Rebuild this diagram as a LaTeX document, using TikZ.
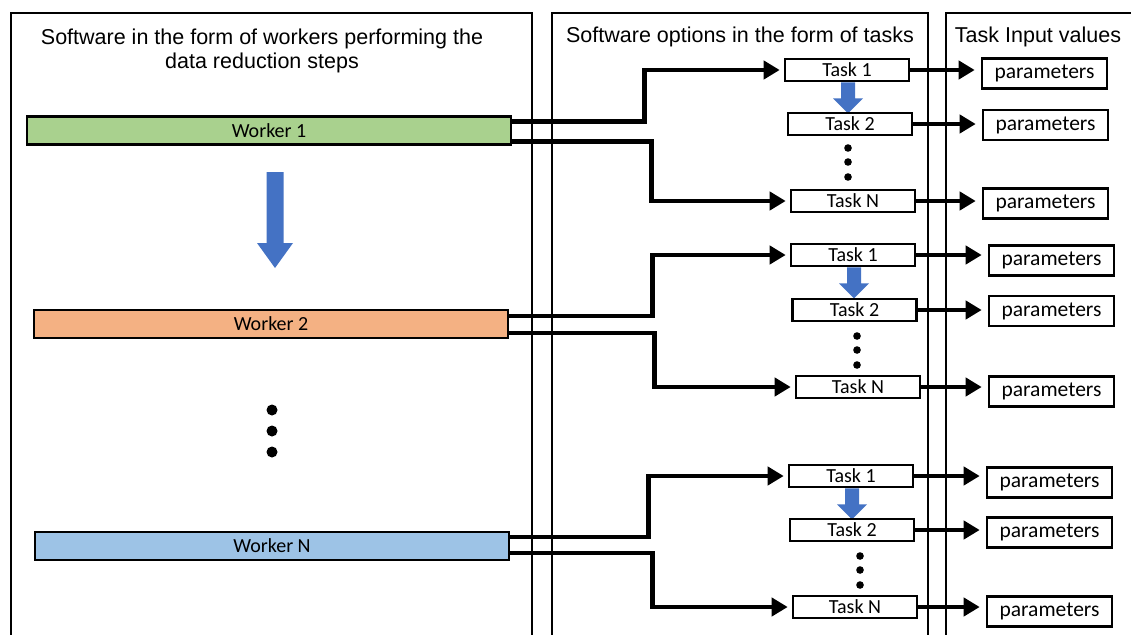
\documentclass[tikz,border=0pt]{standalone}
\usepackage{fontspec}
\setmainfont{Liberation Sans}
\newfontfamily\boxfont{Carlito}
\usetikzlibrary{arrows.meta,calc}

\definecolor{workergreen}{HTML}{A9D18E}
\definecolor{workerorange}{HTML}{F4B183}
\definecolor{workerblue}{HTML}{9DC3E6}
\definecolor{flowblue}{HTML}{4472C4}

\begin{document}
\begin{tikzpicture}[x=1pt,y=-1pt,
  panel/.style={draw,line width=2.4pt},
  heading/.style={font=\fontsize{21.5}{24}\selectfont,align=center,inner sep=0pt},
  worker/.style={draw,line width=2.6pt,inner sep=0pt,minimum height=28pt,
    font=\boxfont\fontsize{20}{22}\selectfont},
  taskbox/.style={draw,fill=white,line width=2.6pt,inner sep=0pt,minimum width=124pt,
    minimum height=22pt,font=\boxfont\fontsize{20}{22}\selectfont},
  parambox/.style={draw,line width=2.6pt,inner sep=0pt,minimum width=125pt,
    minimum height=30pt,font=\boxfont\fontsize{21.5}{22}\selectfont},
  link/.style={line width=4.5pt,-{Triangle[length=16pt,width=18pt]},shorten >=4pt},
  feed/.style={line width=4.5pt,-{Triangle[length=16pt,width=18pt]},shorten >=6pt},
  dot/.style={fill=black},
  pics/downarrow/.style n args={4}{code={
    \fill[flowblue] (-#2,0) -- (#2,0) -- (#2,#1-#4) -- (#3,#1-#4) -- (0,#1)
      -- (-#3,#1-#4) -- (-#2,#1-#4) -- cycle;}}
]
\useasboundingbox[fill=white] (0,0) rectangle (1131,634);

% three column frames, open at the bottom
\draw[panel] (11,640) |- (532,13) -- (532,640);
\draw[panel] (552,640) |- (928,13) -- (928,640);
\draw[panel] (946,640) |- (1140,13);

% column headings
\node[heading] (hwork) at (262,51) {Software in the form of workers performing the\\data reduction steps};
\node[heading] (htask) at (740,37) {Software options in the form of tasks};
\node[heading] (hpar) at (1038,37) {Task Input values};

% workers
\node[worker,fill=workergreen,minimum width=484pt] (w1) at (269,130.5) {Worker 1};
\node[worker,fill=workerorange,minimum width=474pt] (w2) at (271,324) {Worker 2};
\node[worker,fill=workerblue,minimum width=474pt] (wN) at (272,546) {Worker N};

\pic at (275,172) {downarrow={96}{8.5}{18}{25}};
\foreach \y in {410,431,452} \fill[dot] (272,\y) circle (5.5);

% tasks and their parameters, group 1
\node[taskbox] (t11) at (847,70) {Task 1};
\pic at ($(t11.south)+(1,0)$) {downarrow={31}{7}{15}{15}};
\node[taskbox] (t12) at (850,124) {Task 2};
\node[taskbox] (t1N) at (853,201) {Task N};
\node[parambox] (p11) at (1044.5,73.5) {parameters};
\node[parambox] (p12) at (1045.5,125) {parameters};
\node[parambox] (p1N) at (1045.5,203.5) {parameters};
\foreach \y in {148,162,177} \fill[dot] (848,\y) circle (3.8);

% group 2
\node[taskbox] (t21) at (853,255) {Task 1};
\pic at ($(t21.south)+(1,0)$) {downarrow={31}{7}{15}{15}};
\node[taskbox] (t22) at (854.5,310) {Task 2};
\node[taskbox] (t2N) at (858,387) {Task N};
\node[parambox] (p21) at (1051.5,260.5) {parameters};
\node[parambox] (p22) at (1051.5,311) {parameters};
\node[parambox] (p2N) at (1051.5,391.5) {parameters};
\foreach \y in {336,350,365} \fill[dot] (857,\y) circle (3.8);

% group 3
\node[taskbox] (t31) at (851,476) {Task 1};
\pic at ($(t31.south)+(1,0)$) {downarrow={31}{7}{15}{15}};
\node[taskbox] (t32) at (852,530) {Task 2};
\node[taskbox] (t3N) at (855,607) {Task N};
\node[parambox] (p31) at (1049.5,482.5) {parameters};
\node[parambox] (p32) at (1049.5,532.5) {parameters};
\node[parambox] (p3N) at (1049.5,611.5) {parameters};
\foreach \y in {556,570,585} \fill[dot] (860,\y) circle (3.8);

% worker to task connectors
\draw[link] ([yshift=9pt]w1.east) -- ++(132,0) |- (t11.west);
\draw[link] ([yshift=-11pt]w1.east) -- ++(139,0) |- (t1N.west);
\draw[link] ([yshift=8pt]w2.east) -- ++(143,0) |- (t21.west);
\draw[link] ([yshift=-9pt]w2.east) -- ++(145,0) |- (t2N.west);
\draw[link] ([yshift=9pt]wN.east) -- ++(138,0) |- (t31.west);
\draw[link] ([yshift=-7pt]wN.east) -- ++(142,0) |- (t3N.west);

% task to parameter connectors
\foreach \t/\p in {t11/p11,t12/p12,t1N/p1N,t21/p21,t22/p22,t2N/p2N,t31/p31,t32/p32,t3N/p3N}
  \draw[feed] (\t.east) -- (\t.east -| \p.west);
\end{tikzpicture}
\end{document}
